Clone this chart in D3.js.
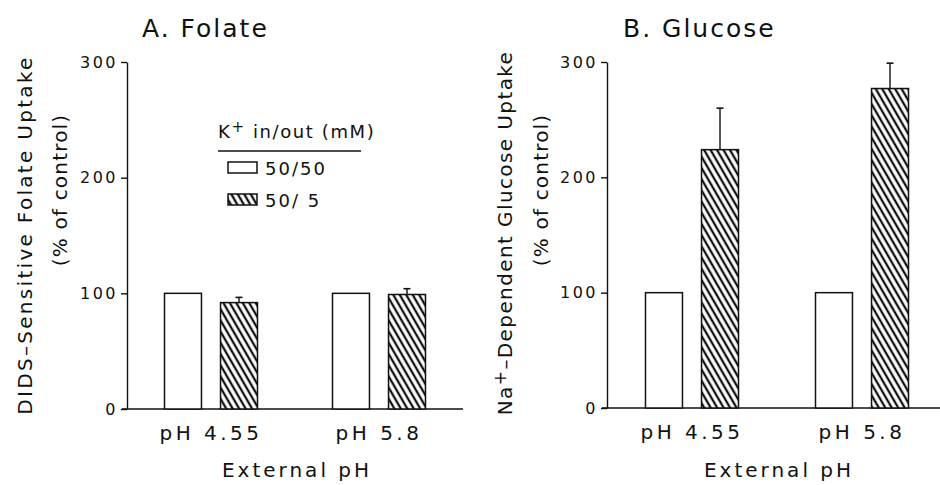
<!DOCTYPE html>
<html>
<head>
<meta charset="utf-8">
<script src="https://cdn.jsdelivr.net/npm/d3@7"></script>
<style>
  body { margin: 0; background: #fff; }
  text { font-family: "DejaVu Sans", sans-serif; fill: #111; }
  .tick text { font-size: 16px; letter-spacing: 2.5px; }
  .tick line, .domain { stroke: #111; stroke-width: 1.4; }
</style>
</head>
<body>
<svg id="chart" width="940" height="485"></svg>
<script>
// data
const groups = ["pH 4.55", "pH 5.8"];
const conditions = ["50/50", "50/ 5"];
const yTicks = [0, 100, 200, 300];
const folateCtrl = [100, 100];
const folateLowK = [92, 99];
const folateLowKErr = [4.5, 5];
const glucoseCtrl = [100, 100];
const glucoseLowK = [224, 277];
const glucoseLowKErr = [36, 22];

const svg = d3.select("#chart");

// diagonal hatch for the 50/5 bars
const defs = svg.append("defs");
const pat = defs.append("pattern")
    .attr("id", "hatch")
    .attr("patternUnits", "userSpaceOnUse")
    .attr("width", 5.6)
    .attr("height", 10)
    .attr("patternTransform", "rotate(-30)");
pat.append("rect").attr("width", 5.6).attr("height", 10).attr("fill", "#fff");
pat.append("line").attr("x1", 2.8).attr("x2", 2.8).attr("y1", 0).attr("y2", 10)
    .attr("stroke", "#111").attr("stroke-width", 2.3);

function drawPanel(cfg) {
    const g = svg.append("g");

    const x = d3.scalePoint().domain(groups).range([cfg.x0, cfg.x1]).padding(0.5);
    const xi = d3.scaleBand().domain(conditions).range([-46.5, 46.5]).paddingInner(0.34);
    const y = d3.scaleLinear().domain([0, 300]).range([cfg.yBottom, cfg.yTop]);

    // y axis
    g.append("g")
        .attr("transform", `translate(${cfg.x0},0)`)
        .call(d3.axisLeft(y).tickValues(yTicks).tickSize(6).tickSizeOuter(0).tickPadding(3));

    // baseline
    g.append("line")
        .attr("x1", cfg.x0 - 5).attr("x2", cfg.lineEnd)
        .attr("y1", y(0)).attr("y2", y(0))
        .attr("stroke", "#111").attr("stroke-width", 1.4);

    const bars = groups.flatMap((grp, i) => [
        { grp, c: conditions[0], v: cfg.ctrl[i], e: 0 },
        { grp, c: conditions[1], v: cfg.lowK[i], e: cfg.err[i] }
    ]);

    g.selectAll(".bar")
        .data(bars)
        .enter().append("rect")
        .attr("class", "bar")
        .attr("x", d => x(d.grp) + xi(d.c))
        .attr("width", xi.bandwidth())
        .attr("y", d => y(d.v))
        .attr("height", d => y(0) - y(d.v))
        .attr("fill", d => d.c === conditions[0] ? "#fff" : "url(#hatch)")
        .attr("stroke", "#111")
        .attr("stroke-width", 1.5);

    // error bars (upper only)
    const eb = g.selectAll(".err")
        .data(bars.filter(d => d.e > 0))
        .enter().append("g")
        .attr("class", "err");
    eb.append("line")
        .attr("x1", d => x(d.grp) + xi(d.c) + xi.bandwidth() / 2)
        .attr("x2", d => x(d.grp) + xi(d.c) + xi.bandwidth() / 2)
        .attr("y1", d => y(d.v))
        .attr("y2", d => y(d.v + d.e))
        .attr("stroke", "#111").attr("stroke-width", 1.4);
    eb.append("line")
        .attr("x1", d => x(d.grp) + xi(d.c) + xi.bandwidth() / 2 - 3.5)
        .attr("x2", d => x(d.grp) + xi(d.c) + xi.bandwidth() / 2 + 3.5)
        .attr("y1", d => y(d.v + d.e))
        .attr("y2", d => y(d.v + d.e))
        .attr("stroke", "#111").attr("stroke-width", 1.6);

    // group labels
    g.selectAll(".grp")
        .data(groups)
        .enter().append("text")
        .attr("class", "grp")
        .attr("x", d => x(d))
        .attr("y", y(0) + 31)
        .attr("text-anchor", "middle")
        .attr("font-size", 20)
        .attr("letter-spacing", 3.5)
        .text(d => d);

    g.append("text")
        .attr("x", (x(groups[0]) + x(groups[1])) / 2 + 2)
        .attr("y", 477)
        .attr("text-anchor", "middle")
        .attr("font-size", 20)
        .attr("letter-spacing", 3)
        .text("External pH");

    // panel title
    g.append("text")
        .attr("x", cfg.titleX)
        .attr("y", 37)
        .attr("font-size", 25)
        .attr("letter-spacing", 2)
        .text(cfg.title);

    // y axis title, two lines
    const yl = g.append("text")
        .attr("transform", `translate(${cfg.ylabX1},${cfg.ylabY1}) rotate(-90)`)
        .attr("text-anchor", "middle")
        .attr("font-size", 20)
        .attr("letter-spacing", cfg.ylabSpacing);
    cfg.ylab(yl);

    g.append("text")
        .attr("transform", `translate(${cfg.ylabX2},190) rotate(-90)`)
        .attr("text-anchor", "middle")
        .attr("font-size", 20)
        .attr("letter-spacing", 1.2)
        .text("(% of control)");
}

drawPanel({
    x0: 127, x1: 463, lineEnd: 463, yBottom: 409, yTop: 62,
    ctrl: folateCtrl, lowK: folateLowK, err: folateLowKErr,
    title: "A. Folate", titleX: 142,
    ylabX1: 32, ylabY1: 235, ylabX2: 67, ylabSpacing: 2.3,
    ylab: t => t.text("DIDS–Sensitive Folate Uptake")
});

drawPanel({
    x0: 607, x1: 947, lineEnd: 940, yBottom: 408, yTop: 62,
    ctrl: glucoseCtrl, lowK: glucoseLowK, err: glucoseLowKErr,
    title: "B. Glucose", titleX: 623,
    ylabX1: 512, ylabY1: 233, ylabX2: 548, ylabSpacing: 1.4,
    ylab: t => {
        t.append("tspan").text("Na");
        t.append("tspan").attr("baseline-shift", "35%").attr("font-size", 17).text("+");
        t.append("tspan").text("–Dependent Glucose Uptake");
    }
});

// legend (panel A)
const leg = svg.append("g");
const legTitle = leg.append("text").attr("x", 218).attr("y", 138).attr("font-size", 18).attr("letter-spacing", 1.6);
legTitle.append("tspan").text("K");
legTitle.append("tspan").attr("baseline-shift", "40%").attr("font-size", 15).text("+");
legTitle.append("tspan").text(" in/out (mM)");
leg.append("line")
    .attr("x1", 218).attr("x2", 361).attr("y1", 151).attr("y2", 151)
    .attr("stroke", "#111").attr("stroke-width", 1.6);

const legItems = leg.selectAll(".item")
    .data(conditions)
    .enter().append("g")
    .attr("class", "item")
    .attr("transform", (d, i) => `translate(228,${162 + i * 32})`);
legItems.append("rect")
    .attr("width", 29).attr("height", 11)
    .attr("fill", (d, i) => i === 0 ? "#fff" : "url(#hatch)")
    .attr("stroke", "#111").attr("stroke-width", 1.5);
legItems.append("text")
    .attr("x", 37).attr("y", 13)
    .attr("font-size", 18)
    .attr("letter-spacing", 2)
    .style("white-space", "pre")
    .text(d => d);
</script>
</body>
</html>
